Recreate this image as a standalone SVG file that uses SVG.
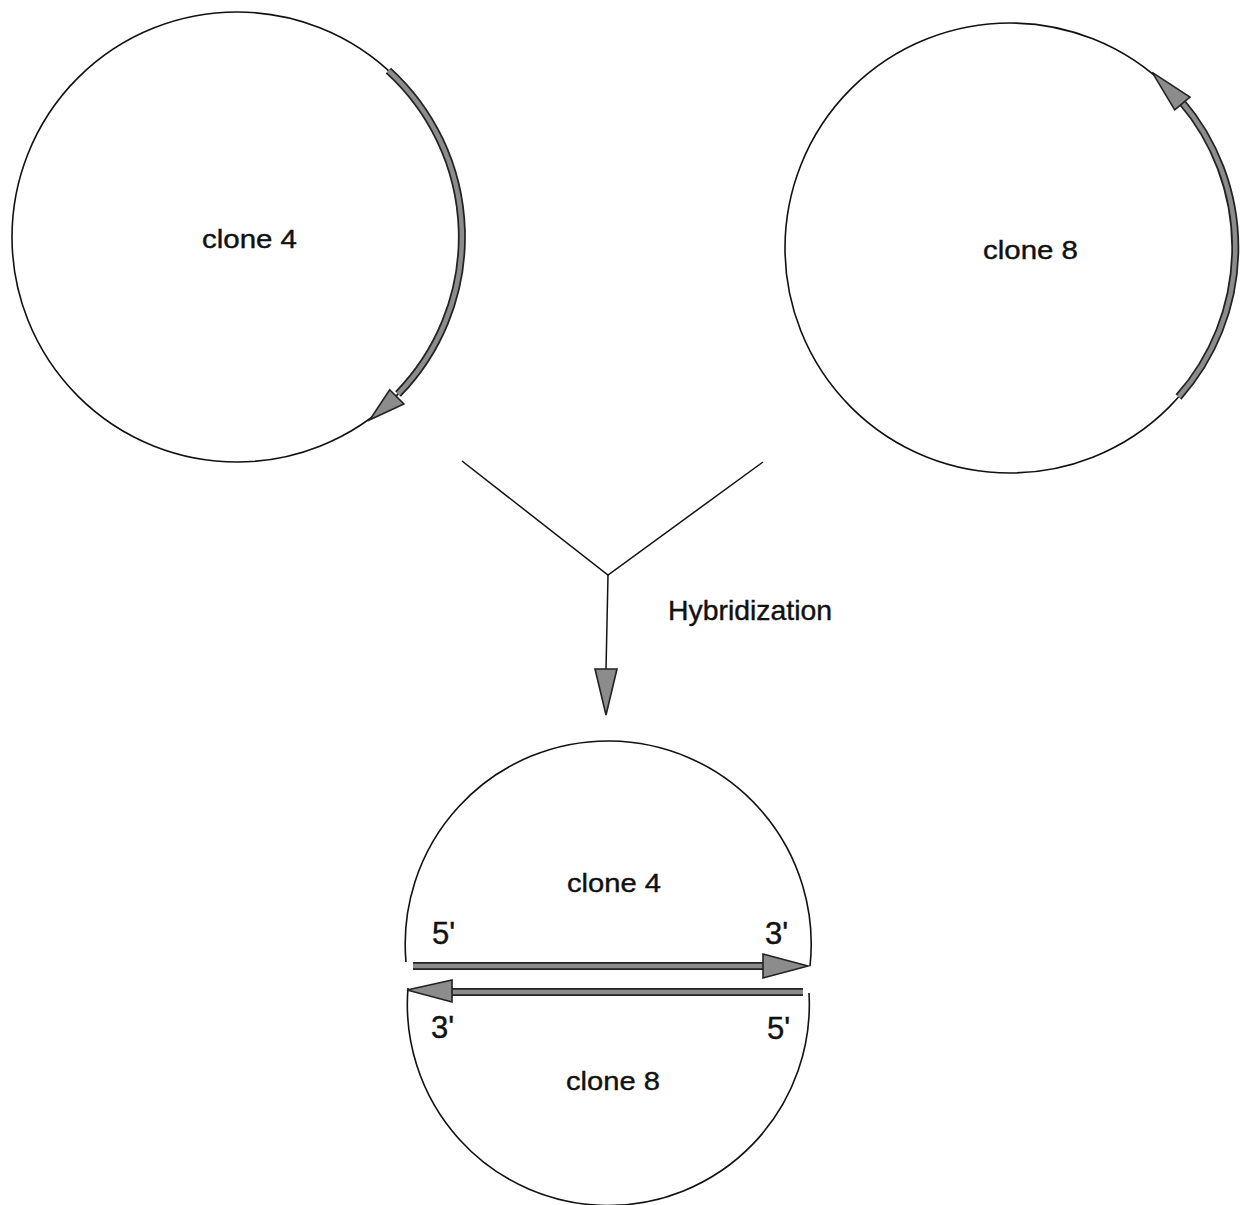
<svg xmlns="http://www.w3.org/2000/svg" width="1243" height="1205" viewBox="0 0 1243 1205">
<style>
.ring{fill:none;stroke:#111;stroke-width:1.6}
.line{fill:none;stroke:#111;stroke-width:1.5}
.shaftOut{fill:none;stroke:#222;stroke-width:8;stroke-linecap:butt}
.shaftIn{fill:none;stroke:#8c8c8c;stroke-width:4.5;stroke-linecap:butt}
.head{fill:#8c8c8c;stroke:#222;stroke-width:1.6;stroke-linejoin:miter}
.lbl{font-family:"Liberation Sans",Arial,sans-serif;font-size:26px;fill:#111;stroke:#111;stroke-width:0.4}
.prime{font-family:"Liberation Sans",Arial,sans-serif;font-size:31px;fill:#111;stroke:#111;stroke-width:0.4}
</style>
<rect width="1243" height="1205" fill="#fff"/>
<g id="clone4-plasmid">
  <circle class="ring" cx="237" cy="237" r="225"/>
  <path class="shaftOut" d="M388.4 70.6 A225 225 0 0 1 398 394"/>
  <path class="shaftIn" d="M388.4 70.6 A225 225 0 0 1 398 394"/>
  <polygon class="head" points="389.7,389.7 403.9,403.9 369.8,419.8"/>
  <text class="lbl" x="202" y="248" textLength="95" lengthAdjust="spacingAndGlyphs">clone 4</text>
</g>
<g id="clone8-plasmid">
  <circle class="ring" cx="1010" cy="248" r="225"/>
  <path class="shaftOut" d="M1178.5 397 A225 225 0 0 0 1181 101"/>
  <path class="shaftIn" d="M1178.5 397 A225 225 0 0 0 1181 101"/>
  <polygon class="head" points="1174.7,109.8 1190,97 1152.2,72.4"/>
  <text class="lbl" x="983" y="259" textLength="95" lengthAdjust="spacingAndGlyphs">clone 8</text>
</g>
<g id="connectors">
  <polyline class="line" points="462,461 608,575 763,462"/>
  <line class="line" x1="608" y1="575" x2="606" y2="670"/>
  <polygon class="head" points="595,669 617,669 606,715"/>
</g>
<g id="hybridization-label">
  <text class="lbl" x="668" y="620" textLength="164" lengthAdjust="spacingAndGlyphs" style="font-size:28px">Hybridization</text>
</g>
<g id="hybrid">
  <path class="ring" d="M406 962 A203 203 0 1 1 810 966"/>
  <path class="ring" d="M408 988 A201 201 0 1 0 809 993"/>
  <path class="shaftOut" d="M413 966 H766"/>
  <path class="shaftIn" d="M413 966 H766"/>
  <polygon class="head" points="763,954 808,966 763,978"/>
  <path class="shaftOut" d="M803 992 H449"/>
  <path class="shaftIn" d="M803 992 H449"/>
  <polygon class="head" points="452,980 407,990 452,1002"/>
  <text class="lbl" x="567" y="892" textLength="94" lengthAdjust="spacingAndGlyphs">clone 4</text>
  <text class="lbl" x="566" y="1090" textLength="94" lengthAdjust="spacingAndGlyphs">clone 8</text>
  <text class="prime" x="432" y="944">5'</text>
  <text class="prime" x="765" y="944">3'</text>
  <text class="prime" x="431" y="1038">3'</text>
  <text class="prime" x="767" y="1039">5'</text>
</g>
</svg>
